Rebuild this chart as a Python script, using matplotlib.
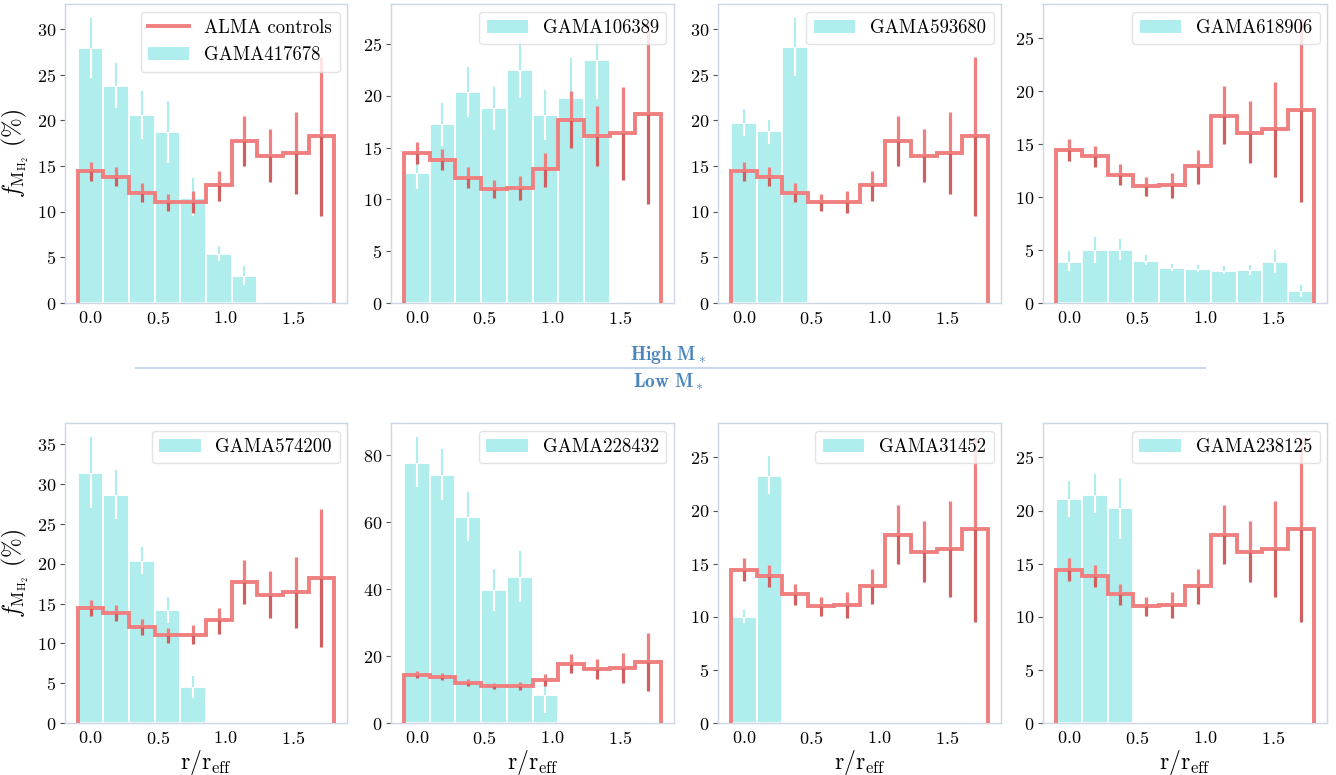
import numpy as np
import matplotlib
matplotlib.use("Agg")
import matplotlib.pyplot as plt
from matplotlib.lines import Line2D
from matplotlib.patches import Patch

plt.rcParams['font.family'] = 'serif'
plt.rcParams['font.serif'] = ['cmr10', 'DejaVu Serif']
plt.rcParams['mathtext.fontset'] = 'cm'
plt.rcParams['axes.formatter.use_mathtext'] = True
plt.rcParams['axes.unicode_minus'] = False

# ---------------- data ----------------
bin_width = 0.19
bin_centers = [0.0, 0.19, 0.38, 0.57, 0.76, 0.95, 1.14, 1.33, 1.52, 1.71]

alma_val = [14.45, 13.85, 12.1, 11.05, 11.1, 12.9, 17.7, 16.1, 16.4, 18.25]
alma_lo = [13.4, 12.8, 11.1, 10.1, 9.9, 11.2, 15.0, 13.25, 11.9, 9.55]
alma_hi = [15.5, 14.85, 13.1, 11.9, 12.3, 14.5, 20.5, 19.05, 20.9, 26.9]

names = ["GAMA417678", "GAMA106389", "GAMA593680", "GAMA618906",
         "GAMA574200", "GAMA228432", "GAMA31452", "GAMA238125"]

gal_val = [
    [27.9, 23.8, 20.6, 18.7, 11.5, 5.4, 3.0],
    [12.6, 17.3, 20.4, 18.8, 22.5, 18.2, 19.8, 23.5],
    [19.7, 18.8, 28.0],
    [3.9, 5.0, 5.0, 4.0, 3.3, 3.2, 3.05, 3.1, 3.9, 1.1],
    [31.4, 28.6, 20.3, 14.2, 4.5],
    [77.8, 74.0, 61.7, 39.7, 43.6, 8.3],
    [9.95, 23.3],
    [21.1, 21.5, 20.2],
]
gal_lo = [
    [24.7, 21.4, 18.0, 15.3, 9.5, 4.6, 2.0],
    [11.0, 15.2, 18.0, 16.7, 19.8, 15.7, 15.9, 19.7],
    [18.3, 17.4, 24.9],
    [3.0, 3.8, 4.1, 3.6, 3.0, 2.9, 2.7, 2.6, 2.8, 0.6],
    [27.0, 25.6, 18.7, 12.6, 3.1],
    [70.4, 66.6, 54.5, 33.6, 36.2, 3.0],
    [9.4, 21.6],
    [19.4, 19.8, 17.3],
]
gal_hi = [
    [31.2, 26.3, 23.2, 22.1, 13.7, 6.3, 4.1],
    [13.4, 19.3, 22.8, 20.9, 25.2, 20.6, 23.7, 27.5],
    [21.3, 20.1, 31.2],
    [4.9, 6.2, 6.0, 4.5, 3.7, 3.6, 3.5, 3.6, 5.0, 1.7],
    [35.9, 31.8, 22.1, 15.8, 5.9],
    [85.4, 81.8, 69.1, 46.0, 51.3, 13.6],
    [10.6, 25.1],
    [22.8, 23.4, 23.1],
]

# ---------------- style ----------------
CYAN = "#b0eded"
RED = "#f08080"
DARKRED = "#d05f5f"
SPINE = "#cbd6e6"

W, H = 1336, 775
fig = plt.figure(figsize=(W / 100, H / 100), dpi=100)

lefts = [65, 391, 718, 1043]
widths = [282, 283, 283, 284]
rows = [(4, 303), (423, 723)]

edges = np.concatenate([[bin_centers[0] - bin_width / 2],
                        np.array(bin_centers) + bin_width / 2])

for i in range(8):
    r, c = divmod(i, 4)
    top, bot = rows[r]
    ax = fig.add_axes([lefts[c] / W, 1 - bot / H, widths[c] / W, (bot - top) / H])

    n = len(gal_val[i])
    xs = bin_centers[:n]
    ax.bar(xs, gal_val[i], width=bin_width, color=CYAN, edgecolor='white',
           linewidth=1.3, zorder=1)
    ax.vlines(xs, gal_lo[i], gal_val[i], color='white', lw=1.6, zorder=2)
    ax.vlines(xs, gal_val[i], gal_hi[i], color=CYAN, lw=1.6, zorder=2)

    ax.stairs(alma_val, edges, baseline=0, color=RED, lw=2.8, zorder=3)
    ax.vlines(bin_centers, alma_lo, alma_val, color=DARKRED, lw=2.3, zorder=4)
    ax.vlines(bin_centers, alma_val, alma_hi, color=RED, lw=2.3, zorder=4)

    ax.set_xlim(edges[0] - 0.095, edges[-1] + 0.095)
    ax.set_ylim(bottom=0)
    ax.set_xticks([0.0, 0.5, 1.0, 1.5])

    for s in ax.spines.values():
        s.set_color(SPINE)
        s.set_linewidth(1.0)
    ax.tick_params(axis='both', labelsize=13, color='#555555', length=3.5,
                   width=0.8, pad=3)
    ax.tick_params(axis='x', length=0, pad=5)

    if i == 0:
        handles = [Line2D([0], [0], color=RED, lw=2.8),
                   Patch(facecolor=CYAN, edgecolor='none')]
        labels = ["ALMA controls", names[i]]
    else:
        handles = [Patch(facecolor=CYAN, edgecolor='none')]
        labels = [names[i]]
    leg = ax.legend(handles, labels, loc='upper right', fontsize=13.5,
                    framealpha=0.8, edgecolor='#dddddd', handlelength=2.2,
                    borderaxespad=0.4)
    leg.set_zorder(5)

    if c == 0:
        ax.set_ylabel(r"$f_{\mathrm{M}_{\mathrm{H}_2}}$ (%)", fontsize=17,
                      labelpad=4)
    if r == 1:
        ax.set_xlabel(r"$\mathrm{r/r_{eff}}$", fontsize=17, labelpad=1)

# separator between rows
fig.add_artist(Line2D([136 / W, 1205 / W], [1 - 368 / H, 1 - 368 / H],
                      color="#c9d8ea", lw=1.5))
fig.text(668 / W, 1 - 355 / H, r"$\mathbf{High\ M_*}$", color="#4a86be",
         ha='center', va='center', fontsize=14)
fig.text(668 / W, 1 - 382 / H, r"$\mathbf{Low\ M_*}$", color="#4a86be",
         ha='center', va='center', fontsize=14)

fig.savefig("out.png", dpi=100)
